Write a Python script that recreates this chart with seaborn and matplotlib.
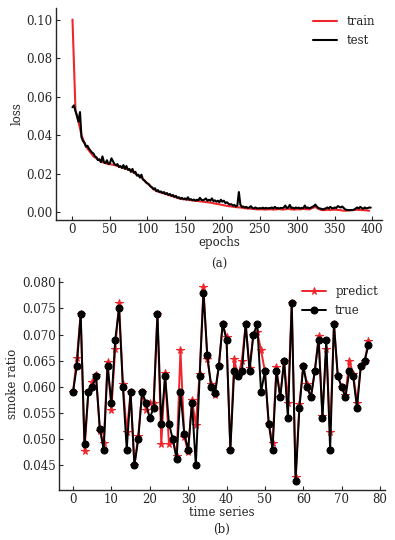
import numpy as np
import pandas as pd
import matplotlib
matplotlib.use("Agg")
import matplotlib.pyplot as plt
import seaborn as sns

# ---- panel (a): loss curves ----
train_epochs = list(range(0, 400, 4))
train_loss = [
    0.100, 0.053, 0.047, 0.040, 0.036, 0.033, 0.031, 0.029, 0.028, 0.027,
    0.026, 0.0255, 0.025, 0.0248, 0.0245, 0.024, 0.0235, 0.023, 0.0225, 0.022,
    0.021, 0.020, 0.019, 0.018, 0.0165, 0.015, 0.0135, 0.012, 0.011, 0.0105,
    0.010, 0.0095, 0.009, 0.0085, 0.008, 0.0075, 0.007, 0.0068, 0.0066, 0.0064,
    0.0062, 0.006, 0.0058, 0.0056, 0.0054, 0.0052, 0.005, 0.0047, 0.0044, 0.0041,
    0.0038, 0.0035, 0.0032, 0.003, 0.0028, 0.0026, 0.0025, 0.0022, 0.002, 0.0019,
    0.0018, 0.0016, 0.0015, 0.0016, 0.0014, 0.0015, 0.0016, 0.0014, 0.0015, 0.0017,
    0.0014, 0.0016, 0.0018, 0.0015, 0.0014, 0.0016, 0.0015, 0.0018, 0.0016, 0.0015,
    0.0022, 0.0028, 0.0018, 0.0012, 0.0011, 0.0013, 0.0012, 0.0014, 0.0013, 0.0012,
    0.0009, 0.0008, 0.0009, 0.0011, 0.0012, 0.0013, 0.0012, 0.0011, 0.0010, 0.0008,
]

test_epochs = list(range(0, 400, 2))
test_loss = [
    0.0545, 0.0555, 0.0525, 0.050, 0.047, 0.052, 0.039, 0.037, 0.036, 0.034,
    0.0345, 0.033, 0.032, 0.031, 0.0305, 0.029, 0.0285, 0.027, 0.0275, 0.026,
    0.029, 0.026, 0.0255, 0.027, 0.025, 0.0255, 0.028, 0.0265, 0.025, 0.0245,
    0.025, 0.0235, 0.024, 0.023, 0.0245, 0.0225, 0.024, 0.022, 0.0225, 0.021,
    0.0225, 0.0205, 0.021, 0.019, 0.0195, 0.018, 0.0195, 0.017, 0.0165, 0.0155,
    0.015, 0.0145, 0.0135, 0.013, 0.012, 0.0125, 0.011, 0.0115, 0.0105, 0.0108,
    0.010, 0.0105, 0.0095, 0.010, 0.009, 0.0095, 0.0085, 0.009, 0.008, 0.0085,
    0.0075, 0.0078, 0.007, 0.0075, 0.0068, 0.0072, 0.0066, 0.0078, 0.0065, 0.0068,
    0.0062, 0.0066, 0.006, 0.0065, 0.0062, 0.0075, 0.0065, 0.0062, 0.0066, 0.0072,
    0.006, 0.0065, 0.006, 0.0072, 0.0058, 0.0062, 0.0055, 0.006, 0.0052, 0.0065,
    0.0055, 0.006, 0.0048, 0.0052, 0.0045, 0.004, 0.0042, 0.0035, 0.0038, 0.003,
    0.0035, 0.0105, 0.004, 0.0028, 0.003, 0.0025, 0.0028, 0.0022, 0.0025, 0.0032,
    0.0022, 0.002, 0.0025, 0.0021, 0.002, 0.0022, 0.002, 0.0024, 0.002, 0.0023,
    0.002, 0.0022, 0.0021, 0.0025, 0.002, 0.0028, 0.0021, 0.0022, 0.002, 0.0023,
    0.0021, 0.0025, 0.0035, 0.0022, 0.0025, 0.0038, 0.0022, 0.0024, 0.002, 0.0025,
    0.0022, 0.0024, 0.002, 0.0023, 0.0021, 0.0035, 0.0022, 0.0025, 0.0021, 0.0024,
    0.0028, 0.0032, 0.004, 0.003, 0.0022, 0.002, 0.0018, 0.0015, 0.0018, 0.002,
    0.0025, 0.002, 0.0028, 0.0022, 0.002, 0.0025, 0.0022, 0.0032, 0.0028, 0.0025,
    0.003, 0.0022, 0.0015, 0.0012, 0.0012, 0.0011, 0.0012, 0.0011, 0.0015, 0.002,
    0.0025, 0.002, 0.0028, 0.0022, 0.0018, 0.0025, 0.002, 0.0022, 0.0025, 0.0024,
]

# ---- panel (b): smoke ratio ----
steps = list(range(78))
true_ratio = [
    0.059, 0.064, 0.074, 0.049, 0.059, 0.060, 0.062, 0.052, 0.048, 0.064,
    0.057, 0.069, 0.075, 0.060, 0.048, 0.059, 0.045, 0.050, 0.059, 0.057,
    0.054, 0.056, 0.074, 0.053, 0.062, 0.053, 0.050, 0.0462, 0.059, 0.051,
    0.048, 0.057, 0.045, 0.062, 0.078, 0.066, 0.060, 0.0588, 0.064, 0.072,
    0.069, 0.048, 0.063, 0.062, 0.063, 0.072, 0.063, 0.070, 0.072, 0.059,
    0.063, 0.053, 0.048, 0.063, 0.058, 0.065, 0.054, 0.076, 0.042, 0.056,
    0.064, 0.060, 0.058, 0.063, 0.069, 0.054, 0.069, 0.048, 0.072, 0.062,
    0.060, 0.058, 0.063, 0.062, 0.056, 0.064, 0.065, 0.068,
]
predict_ratio = [
    0.059, 0.0655, 0.074, 0.0478, 0.059, 0.061, 0.0622, 0.0515, 0.0493, 0.0648,
    0.0556, 0.0673, 0.076, 0.0605, 0.0513, 0.059, 0.045, 0.0507, 0.059, 0.0556,
    0.057, 0.057, 0.074, 0.049, 0.0627, 0.049, 0.050, 0.0468, 0.067, 0.0505,
    0.0475, 0.0575, 0.0528, 0.0625, 0.079, 0.0653, 0.0605, 0.0585, 0.064, 0.072,
    0.0695, 0.048, 0.0653, 0.062, 0.065, 0.072, 0.0637, 0.070, 0.0705, 0.067,
    0.063, 0.053, 0.0493, 0.0638, 0.058, 0.065, 0.057, 0.076, 0.0428, 0.0567,
    0.064, 0.0605, 0.058, 0.063, 0.0697, 0.0545, 0.0673, 0.0513, 0.072, 0.062,
    0.060, 0.0585, 0.065, 0.0625, 0.057, 0.064, 0.065, 0.0688,
]

RED = "#f0262c"

sns.set_style("ticks")
plt.rcParams['font.family'] = ['DejaVu Serif']
plt.rcParams['font.size'] = 8.5
plt.rcParams['xtick.direction'] = 'in'
plt.rcParams['ytick.direction'] = 'in'

fig = plt.figure(figsize=(3.95, 5.40), dpi=100)
ax1 = fig.add_axes([56 / 395, 1 - 220 / 540, 326 / 395, 212 / 540])
ax2 = fig.add_axes([59 / 395, 1 - 490 / 540, 326 / 395, 212 / 540])

# (a)
sns.lineplot(x=train_epochs, y=train_loss, ax=ax1, color=RED, lw=1.5, label="train")
sns.lineplot(x=test_epochs, y=test_loss, ax=ax1, color="black", lw=1.5, label="test")
ax1.set_xlim(-22, 413)
ax1.set_ylim(-0.004, 0.106)
ax1.set_xticks(range(0, 401, 50))
ax1.set_yticks([0, 0.02, 0.04, 0.06, 0.08, 0.10])
ax1.yaxis.set_major_formatter(matplotlib.ticker.FormatStrFormatter('%.2f'))
ax1.set_xlabel("epochs", labelpad=0)
ax1.set_ylabel("loss", labelpad=2)
ax1.legend(loc="upper right", frameon=False, handlelength=2.0, borderaxespad=0.2)
ax1.text(0.5, -0.178, "(a)", transform=ax1.transAxes, ha="center", va="top")

# (b)
sns.lineplot(x=steps, y=predict_ratio, ax=ax2, color=RED, lw=1.4, marker="*",
             markersize=5.5, markeredgecolor=RED, label="predict")
sns.lineplot(x=steps, y=true_ratio, ax=ax2, color="black", lw=1.4, marker="o",
             markersize=5, markeredgecolor="black", label="true")
ax2.set_xlim(-3.65, 81.3)
ax2.set_ylim(0.0403, 0.0808)
ax2.set_xticks(range(0, 81, 10))
ax2.set_yticks([0.045, 0.050, 0.055, 0.060, 0.065, 0.070, 0.075, 0.080])
ax2.yaxis.set_major_formatter(matplotlib.ticker.FormatStrFormatter('%.3f'))
ax2.set_xlabel("time series", labelpad=0)
ax2.set_ylabel("smoke ratio", labelpad=2)
ax2.legend(loc="upper right", frameon=False, handlelength=2.0, borderaxespad=0.2)
ax2.text(0.5, -0.155, "(b)", transform=ax2.transAxes, ha="center", va="top")

for ax in (ax1, ax2):
    sns.despine(ax=ax)
    ax.tick_params(length=3, width=0.8, pad=2.5)
    for s in ("left", "bottom"):
        ax.spines[s].set_linewidth(1.0)

fig.savefig("out.png", dpi=100)
